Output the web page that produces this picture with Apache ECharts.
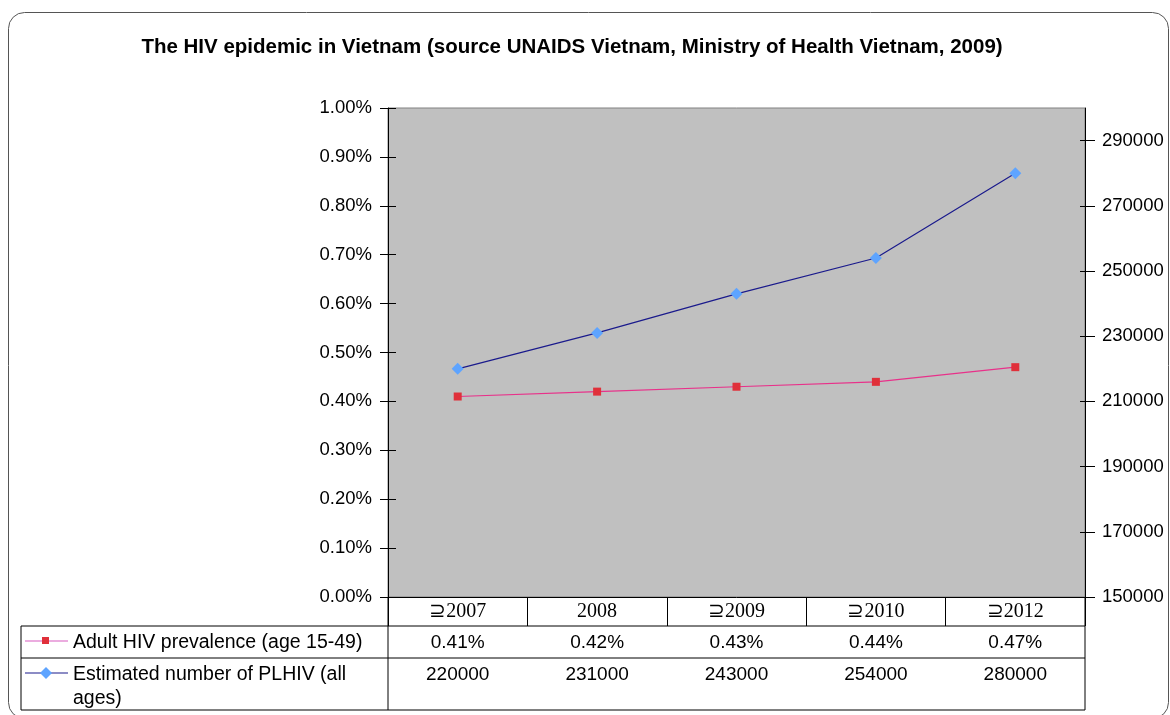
<!DOCTYPE html>
<html>
<head>
<meta charset="utf-8">
<script src="https://cdn.jsdelivr.net/npm/echarts@6/dist/echarts.min.js"></script>
<style>
  html, body { margin: 0; padding: 0; background: #fff; }
  #chart { width: 1170px; height: 715px; }
</style>
</head>
<body>
<div id="chart"></div>
<script>
var years = ['\u22872007', '2008', '\u22872009', '\u22872010', '\u22872012'];
var prevalence = [0.41, 0.42, 0.43, 0.44, 0.47];   // percent
var plhiv = [220000, 231000, 243000, 254000, 280000];
var rightTicks = [150000, 170000, 190000, 210000, 230000, 250000, 270000, 290000];
var rowNames = ['Adult HIV prevalence (age 15-49)', 'Estimated number of PLHIV (all\nages)'];

var chart = echarts.init(document.getElementById('chart'));
var font = 'Liberation Sans, Arial, sans-serif';

var plotL = 388, plotR = 1085, plotT = 108, plotB = 597;

chart.setOption({
    animation: false,
    title: {
        text: 'The HIV epidemic in Vietnam (source UNAIDS Vietnam, Ministry of Health Vietnam, 2009)',
        left: 567, top: 32, textAlign: 'center',
        textStyle: { fontFamily: font, fontSize: 20.5, fontWeight: 'bold', color: '#000' }
    },
    grid: {
        left: plotL, right: 1170 - plotR, top: plotT, bottom: 715 - plotB,
        show: true, backgroundColor: '#C0C0C0', borderColor: '#808080', borderWidth: 1
    },
    xAxis: {
        type: 'category', data: years, boundaryGap: true,
        axisLine: { lineStyle: { color: '#000', width: 1 } },
        axisTick: { show: true, length: 29, alignWithLabel: false, lineStyle: { color: '#000' } },
        axisLabel: { margin: 5, fontFamily: 'Liberation Serif, Times New Roman, serif', fontSize: 20, color: '#000' },
        splitLine: { show: false }
    },
    yAxis: [{
        type: 'value', position: 'left', min: 0, max: 1, interval: 0.1,
        axisLine: { show: true, lineStyle: { color: '#000' } },
        axisTick: { show: true, length: 8, lineStyle: { color: '#000' } },
        axisLabel: { margin: 16, fontFamily: font, fontSize: 18.5, color: '#000',
            formatter: function (v) { return v.toFixed(2) + '%'; } },
        splitLine: { show: false }
    }, {
        type: 'value', position: 'right', min: 150000, max: 300000,
        axisLine: { show: true, lineStyle: { color: '#000' } },
        axisTick: { show: true, length: 10, customValues: rightTicks, lineStyle: { color: '#000' } },
        axisLabel: { margin: 17, fontFamily: font, fontSize: 18.5, color: '#000', customValues: rightTicks,
            formatter: function (v) { return String(v); } },
        splitLine: { show: false }
    }, {
        type: 'value', position: 'left', min: 0, max: 1, interval: 0.1,
        axisLine: { show: false },
        axisTick: { show: true, inside: true, length: 8, lineStyle: { color: '#000' } },
        axisLabel: { show: false }, splitLine: { show: false }
    }, {
        type: 'value', position: 'right', min: 150000, max: 300000,
        axisLine: { show: false },
        axisTick: { show: true, inside: true, length: 5, customValues: rightTicks, lineStyle: { color: '#000' } },
        axisLabel: { show: false }, splitLine: { show: false }
    }],
    series: [{
        name: rowNames[0], type: 'line', yAxisIndex: 0, data: prevalence,
        symbol: 'rect', symbolSize: 8,
        itemStyle: { color: '#E0303A' },
        lineStyle: { color: '#E8318A', width: 1.2 }
    }, {
        name: rowNames[1], type: 'line', yAxisIndex: 1, data: plhiv,
        symbol: 'diamond', symbolSize: 12,
        itemStyle: { color: '#5EA4FF' },
        lineStyle: { color: '#1A1A8C', width: 1.2 }
    }]
});

// table under the plot, built from the same arrays
var row1T = 626, row2T = 658, tabB = 710, tabL = 21;
var g = [];
function line(x1, y1, x2, y2) {
    g.push({ type: 'line', shape: { x1: x1, y1: y1, x2: x2, y2: y2 },
        style: { stroke: '#000', lineWidth: 1 }, silent: true });
}
line(tabL, row1T, plotR, row1T);
line(tabL, row2T, plotR, row2T);
line(tabL, tabB, plotR, tabB);
line(tabL, row1T, tabL, tabB);
line(plotL, plotB, plotL, tabB);
line(plotR, plotB, plotR, tabB);
var k1 = 641, k2 = 673, dy = 2;   // dy: text baseline nudge
for (var i = 0; i < years.length; i++) {
    var cx = chart.convertToPixel({ xAxisIndex: 0 }, i);
    g.push({ type: 'text', x: cx, y: k1 + dy, silent: true,
        style: { text: prevalence[i].toFixed(2) + '%', fontFamily: font, fontSize: 19,
            fill: '#000', align: 'center', verticalAlign: 'middle' } });
    g.push({ type: 'text', x: cx, y: k2 + dy, silent: true,
        style: { text: String(plhiv[i]), fontFamily: font, fontSize: 19,
            fill: '#000', align: 'center', verticalAlign: 'middle' } });
}
// legend keys inside the table
g.push({ type: 'line', shape: { x1: 25, y1: k1, x2: 68, y2: k1 }, style: { stroke: '#D85AC0', lineWidth: 1.2 } });
g.push({ type: 'rect', shape: { x: 42, y: k1 - 4, width: 7, height: 7 }, style: { fill: '#E0303A' } });
g.push({ type: 'line', shape: { x1: 25, y1: k2, x2: 68, y2: k2 }, style: { stroke: '#1A1A8C', lineWidth: 1.2 } });
g.push({ type: 'polygon', shape: { points: [[46, k2 - 6], [52, k2], [46, k2 + 6], [40, k2]] }, style: { fill: '#5EA4FF' } });
g.push({ type: 'text', x: 73, y: k1 + dy, style: { text: rowNames[0], fontFamily: font, fontSize: 19.5,
    fill: '#000', verticalAlign: 'middle' } });
g.push({ type: 'text', x: 73, y: k2 - 12 + dy, style: { text: rowNames[1], fontFamily: font, fontSize: 19.5,
    fill: '#000', verticalAlign: 'top', lineHeight: 24 } });
// outer rounded frame
g.push({ type: 'rect', shape: { x: 8.5, y: 12.5, width: 1160, height: 706, r: 16 },
    style: { fill: 'none', stroke: '#555', lineWidth: 1 }, silent: true, z: -1 });

chart.setOption({ graphic: g });
</script>
</body>
</html>
